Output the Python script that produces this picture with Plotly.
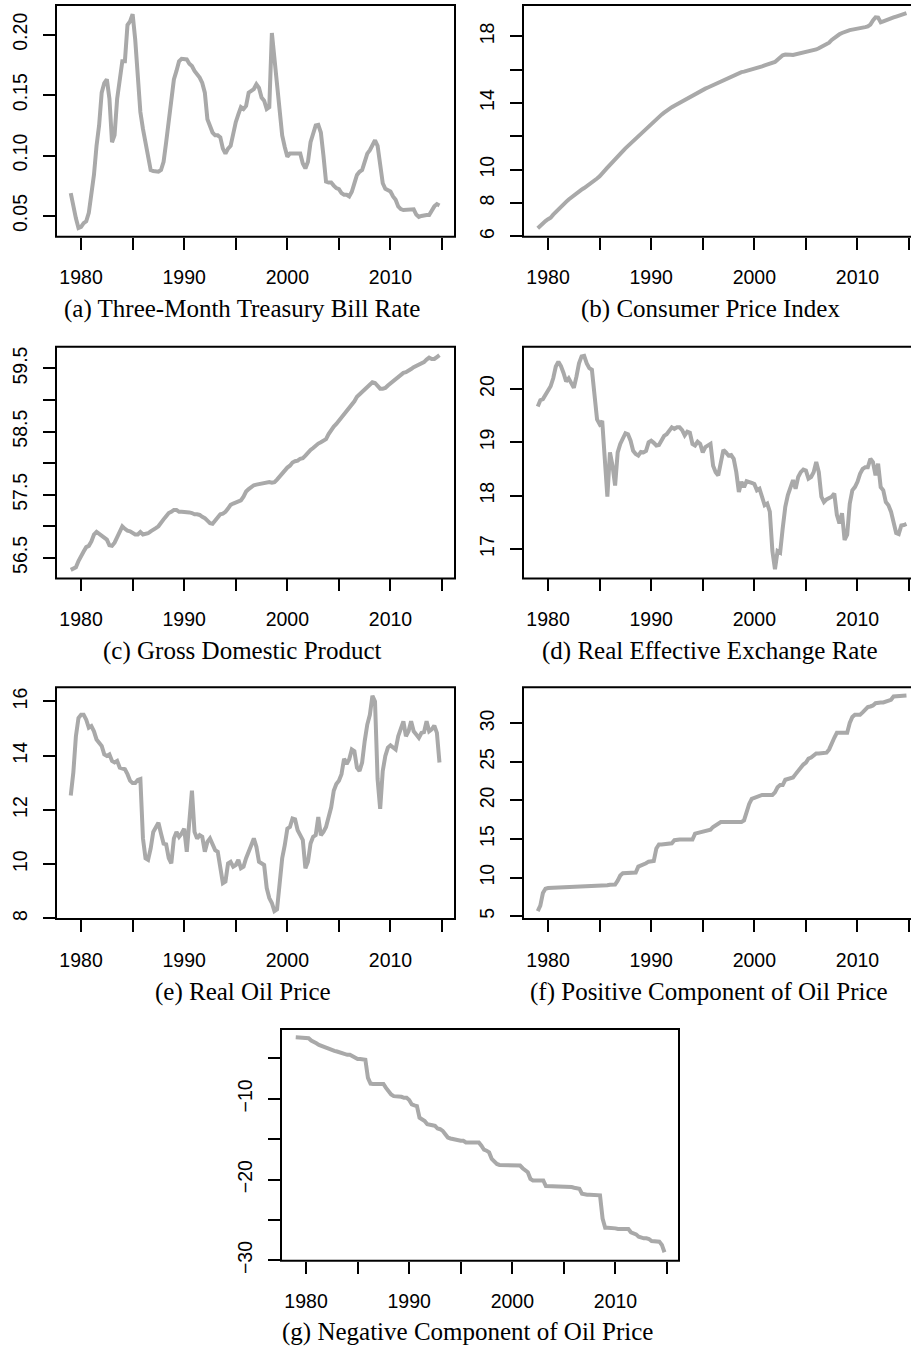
import plotly.graph_objects as go

W, H = 911, 1356

# quarterly index 1979Q1 .. 2014Q4
years = list(range(1979, 2015))
quarters = [y + q / 4 for y in years for q in range(4)]

tbill = [
    0.0689, 0.0566, 0.048, 0.040,
    0.041, 0.044, 0.0456, 0.0525,
    0.0675, 0.084, 0.108, 0.125,
    0.152, 0.160, 0.163, 0.147,
    0.111, 0.117, 0.147, 0.163,
    0.178, 0.178, 0.208, 0.211,
    0.217, 0.196, 0.166, 0.136,
    0.122, 0.111, 0.0975, 0.088,
    0.0872, 0.0866, 0.0866, 0.088,
    0.0948, 0.111, 0.1276, 0.147,
    0.163, 0.170, 0.178, 0.180,
    0.180, 0.1795, 0.176, 0.174,
    0.170, 0.167, 0.1645, 0.160,
    0.152, 0.130, 0.1235, 0.119,
    0.1167, 0.1167, 0.115, 0.1057,
    0.1016, 0.1057, 0.108, 0.119,
    0.1276, 0.134, 0.140, 0.1385,
    0.141, 0.152, 0.1535, 0.155,
    0.159, 0.156, 0.148, 0.1454,
    0.1385, 0.140, 0.2014, 0.1795,
    0.1576, 0.136, 0.1167, 0.107,
    0.0989, 0.1016, 0.1016, 0.1016,
    0.1016, 0.1016, 0.0934, 0.0893,
    0.0948, 0.111, 0.118, 0.1249,
    0.1254, 0.119, 0.100, 0.0784,
    0.0776, 0.0776, 0.0751, 0.0730,
    0.0721, 0.0689, 0.0675, 0.0675,
    0.0661, 0.070, 0.077, 0.0839,
    0.0866, 0.088, 0.0948, 0.1016,
    0.1044, 0.108, 0.1126, 0.108,
    0.0948, 0.077, 0.0724, 0.0708,
    0.0702, 0.0661, 0.0634, 0.0579,
    0.0557, 0.0549, 0.0549, 0.0549,
    0.0549, 0.0555, 0.0511, 0.0492,
    0.050, 0.0508, 0.0508, 0.0508,
    0.0552, 0.0579, 0.0598, 0.0587,
]

cpi = [
    6.49, 6.65, 6.80, 6.92,
    7.03, 7.12, 7.30, 7.47,
    7.62, 7.75, 7.92, 8.07,
    8.21, 8.34, 8.47, 8.59,
    8.71, 8.80, 8.90, 9.00,
    9.10, 9.22, 9.35, 9.47,
    9.60, 9.75, 9.95, 10.12,
    10.29, 10.47, 10.65, 10.82,
    10.98, 11.12, 11.28, 11.43,
    11.58, 11.72, 11.88, 12.03,
    12.17, 12.32, 12.47, 12.62,
    12.76, 12.90, 13.04, 13.18,
    13.30, 13.42, 13.55, 13.66,
    13.75, 13.84, 13.93, 14.01,
    14.09, 14.18, 14.27, 14.35,
    14.44, 14.53, 14.62, 14.71,
    14.80, 14.86, 14.93, 15.00,
    15.07, 15.15, 15.23, 15.31,
    15.39, 15.45, 15.51, 15.57,
    15.63, 15.70, 15.80, 15.85,
    15.88, 15.92, 15.95, 15.98,
    16.02, 16.08, 16.15, 16.20,
    16.26, 16.32, 16.38, 16.42,
    16.46, 16.60, 16.75, 16.86,
    16.91, 16.92, 16.90, 16.88,
    16.91, 16.94, 16.97, 17.01,
    17.05, 17.09, 17.13, 17.17,
    17.21, 17.28, 17.36, 17.43,
    17.51, 17.62, 17.78, 17.92,
    18.04, 18.12, 18.20, 18.27,
    18.34, 18.37, 18.40, 18.42,
    18.43, 18.47, 18.51, 18.55,
    18.59, 18.70, 18.95, 19.14,
    19.12, 18.84, 18.90, 18.97,
    19.03, 19.08, 19.13, 19.18,
    19.22, 19.28, 19.34, 19.39,
]

gdp = [
    56.31, 56.33, 56.35, 56.45,
    56.54, 56.60, 56.67, 56.69,
    56.76, 56.87, 56.91, 56.88,
    56.84, 56.82, 56.79, 56.70,
    56.69, 56.74, 56.84, 56.91,
    57.00, 56.96, 56.93, 56.92,
    56.89, 56.87, 56.87, 56.91,
    56.87, 56.88, 56.89, 56.92,
    56.94, 56.97, 57.00, 57.07,
    57.11, 57.16, 57.21, 57.23,
    57.26, 57.26, 57.23, 57.23,
    57.23, 57.23, 57.22, 57.21,
    57.19, 57.19, 57.18, 57.15,
    57.13, 57.09, 57.05, 57.04,
    57.09, 57.15, 57.19, 57.20,
    57.23, 57.28, 57.34, 57.36,
    57.38, 57.39, 57.41, 57.47,
    57.55, 57.59, 57.62, 57.65,
    57.66, 57.67, 57.68, 57.69,
    57.69, 57.70, 57.69, 57.70,
    57.74, 57.79, 57.84, 57.89,
    57.93, 57.96, 58.01, 58.03,
    58.04, 58.07, 58.08, 58.12,
    58.17, 58.21, 58.24, 58.28,
    58.31, 58.33, 58.35, 58.38,
    58.46, 58.53, 58.58, 58.62,
    58.67, 58.74, 58.77, 58.83,
    58.88, 58.93, 58.98, 59.05,
    59.09, 59.12, 59.17, 59.22,
    59.24, 59.28, 59.27, 59.22,
    59.18, 59.18, 59.19, 59.23,
    59.26, 59.30, 59.33, 59.37,
    59.40, 59.43, 59.44, 59.46,
    59.49, 59.52, 59.54, 59.56,
    59.57, 59.60, 59.64, 59.67,
    59.65, 59.65, 59.68, 59.71,
]

reer = [
    19.67, 19.79, 19.81, 19.89,
    19.94, 20.05, 20.20, 20.42,
    20.51, 20.43, 20.30, 20.14,
    20.20, 20.11, 20.02, 20.23,
    20.48, 20.61, 20.62, 20.48,
    20.39, 20.36, 19.86, 19.43,
    19.34, 19.40, 18.69, 17.98,
    18.81, 18.56, 18.19, 18.81,
    18.97, 19.09, 19.17, 19.15,
    19.03, 18.84, 18.78, 18.75,
    18.82, 18.81, 18.84, 19.00,
    19.03, 18.99, 18.94, 18.95,
    19.03, 19.12, 19.15, 19.21,
    19.28, 19.25, 19.28, 19.28,
    19.23, 19.13, 19.20, 19.18,
    18.97, 18.94, 19.01, 18.97,
    18.81, 18.91, 18.95, 18.97,
    18.56, 18.44, 18.38, 18.63,
    18.86, 18.81, 18.75, 18.76,
    18.69, 18.44, 18.07, 18.26,
    18.16, 18.27, 18.26, 18.24,
    18.22, 18.10, 18.13, 17.95,
    17.82, 17.85, 17.70, 16.96,
    16.62, 16.96, 16.93, 17.39,
    17.79, 18.01, 18.14, 18.29,
    18.13, 18.35, 18.44, 18.49,
    18.47, 18.32, 18.35, 18.44,
    18.63, 18.44, 17.98, 17.88,
    17.93, 17.95, 17.98, 18.04,
    17.64, 17.48, 17.67, 17.17,
    17.27, 17.85, 18.10, 18.16,
    18.26, 18.41, 18.50, 18.53,
    18.53, 18.69, 18.63, 18.38,
    18.60, 18.16, 18.10, 17.88,
    17.82, 17.70, 17.51, 17.30,
    17.28, 17.44, 17.45, 17.47,
]

oil = [
    12.53, 13.38, 14.72, 15.39,
    15.51, 15.51, 15.33, 15.03,
    15.09, 14.90, 14.60, 14.50,
    14.36, 14.05, 13.99, 14.05,
    13.81, 13.75, 13.81, 13.56,
    13.53, 13.50, 13.32, 13.08,
    12.99, 12.99, 13.11, 13.14,
    10.95, 10.22, 10.16, 10.58,
    11.19, 11.37, 11.53, 11.13,
    10.76, 10.73, 10.22, 10.03,
    10.95, 11.19, 11.01, 11.13,
    11.31, 10.46, 11.68, 12.71,
    11.19, 10.95, 11.07, 11.01,
    10.46, 10.82, 10.95, 10.76,
    10.52, 10.46, 9.97, 9.30,
    9.36, 10.03, 10.09, 9.91,
    9.97, 10.16, 9.85, 9.91,
    10.22, 10.52, 10.70, 10.95,
    10.64, 10.09, 10.03, 9.97,
    9.12, 8.75, 8.57, 8.27,
    8.33, 9.24, 10.22, 10.70,
    11.31, 11.37, 11.68, 11.65,
    11.25, 11.07, 10.89, 9.85,
    10.09, 10.76, 11.01, 11.07,
    11.74, 11.07, 11.19, 11.37,
    11.80, 12.10, 12.71, 12.96,
    13.08, 13.32, 13.89, 13.69,
    13.87, 14.23, 14.17, 13.56,
    13.44, 13.75, 14.54, 15.15,
    15.51, 16.21, 16.00, 13.14,
    12.04, 13.44, 13.99, 14.30,
    14.38, 14.30, 14.23, 14.72,
    15.03, 15.27, 14.72, 14.90,
    15.27, 14.90, 14.78, 14.66,
    14.84, 14.87, 15.27, 14.90,
    14.97, 15.11, 14.84, 13.75,
]

oil_pos = [
    5.64, 6.35, 8.00, 8.55,
    8.64, 8.65, 8.66, 8.68,
    8.70, 8.72, 8.74, 8.75,
    8.76, 8.77, 8.77, 8.78,
    8.80, 8.82, 8.83, 8.85,
    8.88, 8.89, 8.90, 8.90,
    8.91, 8.92, 8.95, 9.00,
    9.07, 9.08, 9.10, 9.60,
    10.27, 10.57, 10.57, 10.57,
    10.65, 10.65, 10.65, 11.42,
    11.55, 11.64, 11.85, 12.06,
    12.15, 12.15, 13.78, 14.29,
    14.29, 14.33, 14.42, 14.42,
    14.45, 14.85, 14.93, 14.93,
    14.93, 14.93, 14.93, 14.93,
    14.93, 15.70, 15.79, 15.83,
    15.92, 16.13, 16.13, 16.22,
    16.56, 16.77, 17.07, 17.20,
    17.20, 17.20, 17.20, 17.20,
    17.20, 17.20, 17.20, 17.20,
    17.41, 18.70, 19.55, 20.20,
    20.33, 20.54, 20.71, 20.71,
    20.71, 20.71, 20.71, 20.71,
    21.05, 21.70, 21.99, 21.99,
    22.68, 22.77, 22.85, 22.98,
    23.41, 23.84, 24.35, 24.65,
    24.91, 25.42, 25.55, 25.76,
    26.10, 26.10, 26.10, 26.10,
    26.19, 26.62, 27.47, 28.12,
    28.76, 28.76, 28.76, 28.76,
    28.76, 30.04, 30.81, 31.11,
    31.11, 31.11, 31.41, 31.75,
    32.10, 32.18, 32.31, 32.61,
    32.70, 32.70, 32.70, 32.83,
    32.95, 33.04, 33.47, 33.47,
    33.55, 33.60, 33.60, 33.60,
]

oil_neg = [
    -2.39, -2.39, -2.39, -2.39,
    -2.39, -2.51, -2.80, -2.92,
    -3.13, -3.33, -3.46, -3.54,
    -3.74, -3.87, -4.03, -4.07,
    -4.15, -4.27, -4.36, -4.44,
    -4.56, -4.56, -4.76, -4.97,
    -5.09, -5.09, -5.17, -5.17,
    -7.42, -8.12, -8.16, -8.16,
    -8.16, -8.16, -8.16, -8.65,
    -9.06, -9.47, -9.67, -9.67,
    -9.75, -9.75, -9.88, -9.88,
    -10.16, -10.70, -10.82, -10.90,
    -12.33, -12.54, -12.74, -13.15,
    -13.15, -13.27, -13.35, -13.68,
    -13.76, -13.97, -14.38, -14.79,
    -14.91, -14.99, -15.07, -15.19,
    -15.19, -15.19, -15.40, -15.40,
    -15.40, -15.40, -15.40, -15.40,
    -15.81, -16.30, -16.42, -16.63,
    -17.44, -17.77, -18.06, -18.18,
    -18.18, -18.18, -18.18, -18.18,
    -18.18, -18.26, -18.26, -18.26,
    -18.59, -18.88, -19.08, -19.90,
    -20.10, -20.10, -20.10, -20.10,
    -20.10, -20.80, -20.80, -20.80,
    -20.80, -20.80, -20.80, -20.80,
    -20.80, -20.80, -20.80, -20.92,
    -21.00, -21.00, -21.12, -21.74,
    -21.86, -21.86, -21.86, -21.86,
    -21.86, -21.86, -21.94, -24.81,
    -25.95, -25.95, -25.95, -26.03,
    -26.03, -26.11, -26.11, -26.11,
    -26.11, -26.11, -26.52, -26.65,
    -26.77, -27.06, -27.18, -27.26,
    -27.26, -27.34, -27.59, -27.59,
    -27.67, -27.67, -28.08, -28.98,
]

x_tickvals = [1980, 1985, 1990, 1995, 2000, 2005, 2010, 2015]
x_ticktext = ["1980", "", "1990", "", "2000", "", "2010", ""]

captions = [
    "(a) Three-Month Treasury Bill Rate",
    "(b) Consumer Price Index",
    "(c) Gross Domestic Product",
    "(d) Real Effective Exchange Rate",
    "(e) Real Oil Price",
    "(f) Positive Component of Oil Price",
    "(g) Negative Component of Oil Price",
]

series = [tbill, cpi, gdp, reer, oil, oil_pos, oil_neg]

y_tickvals = [
    [0.05, 0.10, 0.15, 0.20],
    [6, 8, 10, 12, 14, 16, 18],
    [56.5, 57.0, 57.5, 58.0, 58.5, 59.0, 59.5],
    [17, 18, 19, 20],
    [8, 10, 12, 14, 16],
    [5, 10, 15, 20, 25, 30],
    [-30, -25, -20, -15, -10, -5],
]
y_ticktext = [
    ["0.05", "0.10", "0.15", "0.20"],
    ["6", "8", "10", "", "14", "", "18"],
    ["56.5", "", "57.5", "", "58.5", "", "59.5"],
    ["17", "18", "19", "20"],
    ["8", "10", "12", "14", "16"],
    ["5", "10", "15", "20", "25", "30"],
    ["\u221230", "", "\u221220", "", "\u221210", ""],
]

# layout geometry (pixels): box left, right, top, bottom
PXYR = 10.314
X0 = 1977.57
boxes = [
    (56, 455, 5, 239),
    (523, 922, 5, 239),
    (56, 455, 350, 584),
    (523, 922, 350, 584),
    (56, 455, 694, 928),
    (523, 922, 694, 928),
    (281, 679, 1039, 1273),
]
y_ranges = [
    [0.0328, 0.2246],
    [5.98, 19.88],
    [56.175, 59.845],
    [16.449, 20.793],
    [7.974, 16.522],
    [4.615, 34.66],
    [-30.04, -1.37],
]
cap_pos = [(242.5, 312), (710.5, 312), (242, 657), (710, 657),
           (243, 1002), (709, 1002), (467, 1345)]

LINE = "#A9A9A9"
TICKFONT = dict(family="Liberation Sans, Arial, sans-serif", size=19.5, color="black")
CAPFONT = dict(family="Liberation Serif, Times New Roman, serif", size=25, color="black")

fig = go.Figure()
layout = dict(
    width=W, height=H, autosize=False,
    margin=dict(l=0, r=0, t=0, b=0, pad=0),
    paper_bgcolor="white", plot_bgcolor="white",
    showlegend=False, shapes=[], annotations=[],
)

for i, (ys, (l, r, t, b)) in enumerate(zip(series, boxes)):
    n = "" if i == 0 else str(i + 1)
    r_vis = min(r, W)
    x_end = X0 + (r_vis - l) / PXYR
    fig.add_trace(go.Scatter(
        x=quarters, y=ys, mode="lines",
        line=dict(color=LINE, width=4),
        xaxis="x" + n, yaxis="y" + n, hoverinfo="skip",
    ))
    layout["xaxis" + n] = dict(
        domain=[l / W, r_vis / W], range=[X0, x_end], anchor="y" + n,
        showgrid=False, zeroline=False, showline=False,
        ticks="outside", ticklen=12, tickwidth=2, tickcolor="black",
        tickmode="array", tickvals=x_tickvals, ticktext=x_ticktext,
        tickfont=TICKFONT, ticklabelstandoff=11,
    )
    layout["yaxis" + n] = dict(
        domain=[1 - b / H, 1 - t / H], range=y_ranges[i], anchor="x" + n,
        showgrid=False, zeroline=False, showline=False,
        ticks="outside", ticklen=12, tickwidth=2, tickcolor="black",
        tickmode="array", tickvals=y_tickvals[i], ticktext=y_ticktext[i],
        tickfont=TICKFONT, tickangle=-90, ticklabelstandoff=8,
    )
    layout["shapes"].append(dict(
        type="rect", xref="paper", yref="paper",
        x0=l / W, x1=r / W, y0=1 - b / H, y1=1 - t / H,
        line=dict(color="black", width=2), layer="above",
    ))
    cx, cy = cap_pos[i]
    layout["annotations"].append(dict(
        text=captions[i], x=cx / W, y=1 - cy / H, xref="paper", yref="paper",
        xanchor="center", yanchor="middle", showarrow=False, font=CAPFONT,
    ))

fig.update_layout(**layout)
fig.write_html(
    "out.html",
    config={"displayModeBar": False},
    post_script="document.body.style.margin='0';document.body.style.overflow='hidden';",
)
